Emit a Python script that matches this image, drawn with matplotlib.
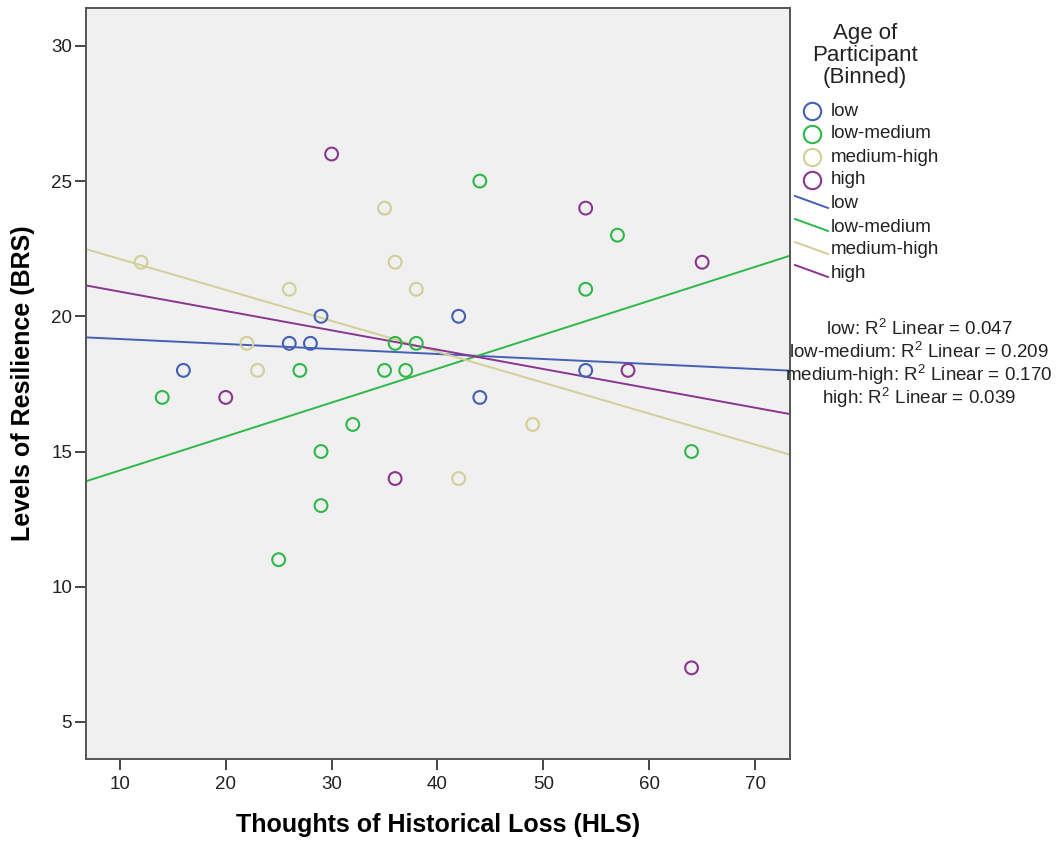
import numpy as np
import matplotlib
matplotlib.use("Agg")
import matplotlib.pyplot as plt
from matplotlib.lines import Line2D

plt.rcParams['font.family'] = ['Liberation Sans', 'DejaVu Sans']
plt.rcParams['mathtext.fontset'] = 'custom'
plt.rcParams['mathtext.rm'] = 'Liberation Sans'
plt.rcParams['mathtext.it'] = 'Liberation Sans'

groups = ["low", "low-medium", "medium-high", "high"]
colors = ["#4460B6", "#2EB848", "#D3CE97", "#8A368E"]

low_x = [16, 26, 28, 29, 42, 44, 54]
low_y = [18, 19, 19, 20, 20, 17, 18]
lowmed_x = [14, 25, 27, 29, 29, 32, 35, 36, 37, 38, 44, 54, 57, 64]
lowmed_y = [17, 11, 18, 15, 13, 16, 18, 19, 18, 19, 25, 21, 23, 15]
medhigh_x = [12, 22, 23, 26, 35, 36, 38, 42, 49]
medhigh_y = [22, 19, 18, 21, 24, 22, 21, 14, 16]
high_x = [30, 20, 36, 54, 58, 64, 65]
high_y = [26, 17, 14, 24, 18, 7, 22]
r2_labels = ["0.047", "0.209", "0.170", "0.039"]

xs = [low_x, lowmed_x, medhigh_x, high_x]
ys = [low_y, lowmed_y, medhigh_y, high_y]

W, H = 1059, 843
fig = plt.figure(figsize=(W / 100, H / 100), dpi=100)
ax = fig.add_axes([86 / W, 1 - 759 / H, (790 - 86) / W, (759 - 8) / H])
ax.set_facecolor("#F0F0F0")

xlim = (6.8, 73.3)
ylim = (3.63, 31.4)
ax.set_xlim(*xlim)
ax.set_ylim(*ylim)

for x, y, c in zip(xs, ys, colors):
    ax.scatter(x, y, s=85, facecolors='none', edgecolors=c, linewidths=1.5, zorder=3)

xx = np.array(xlim)
for x, y, c in zip(xs, ys, colors):
    b, a = np.polyfit(x, y, 1)
    ax.plot(xx, a + b * xx, color=c, lw=1.4, zorder=2)

ax.set_xticks([10, 20, 30, 40, 50, 60, 70])
ax.set_yticks([5, 10, 15, 20, 25, 30])
ax.tick_params(direction='out', length=8, width=1.4, color='#444444',
               labelsize=13.5, labelcolor='#222222')
ax.tick_params(axis='y', pad=2)
ax.tick_params(axis='x', pad=4)
for s in ax.spines.values():
    s.set_color('#555555')
    s.set_linewidth(1.4)

ax.set_xlabel("Thoughts of Historical Loss (HLS)", fontsize=18, fontweight='bold', va='center')
ax.set_ylabel("Levels of Resilience (BRS)", fontsize=18, fontweight='bold', va='center')
ax.xaxis.set_label_coords(0.5, (759 - 825) / 751)
ax.yaxis.set_label_coords((23 - 86) / 704, 0.5)

def fx(px):
    return px / W

def fy(py):
    return 1 - py / H

# Legend title
for t, py in zip(["Age of", "Participant", "(Binned)"], [33, 55, 77]):
    fig.text(fx(865), fy(py), t, ha='center', va='center', fontsize=16, color='#222222')

for i, (g, c) in enumerate(zip(groups, colors)):
    py = 111 + 23 * i
    fig.add_artist(Line2D([fx(812)], [fy(py)], marker='o', markersize=12.5,
                          markerfacecolor='none', markeredgecolor=c, markeredgewidth=1.5,
                          linestyle='none', transform=fig.transFigure))
    fig.text(fx(831), fy(py), g, ha='left', va='center', fontsize=13.5, color='#222222')

for i, (g, c) in enumerate(zip(groups, colors)):
    py = 204 + 23 * i
    fig.add_artist(Line2D([fx(795), fx(828)], [fy(py - 8), fy(py + 4)], color=c, lw=1.4,
                          transform=fig.transFigure))
    fig.text(fx(831), fy(py), g, ha='left', va='center', fontsize=13.5, color='#222222')

for i, (g, r) in enumerate(zip(groups, r2_labels)):
    py = 329 + 23 * i
    fig.text(fx(919), fy(py), g + ": R$^{2}$ Linear = " + r, ha='center', va='center',
             fontsize=13.5, color='#222222')

fig.savefig("out.png", dpi=100)
